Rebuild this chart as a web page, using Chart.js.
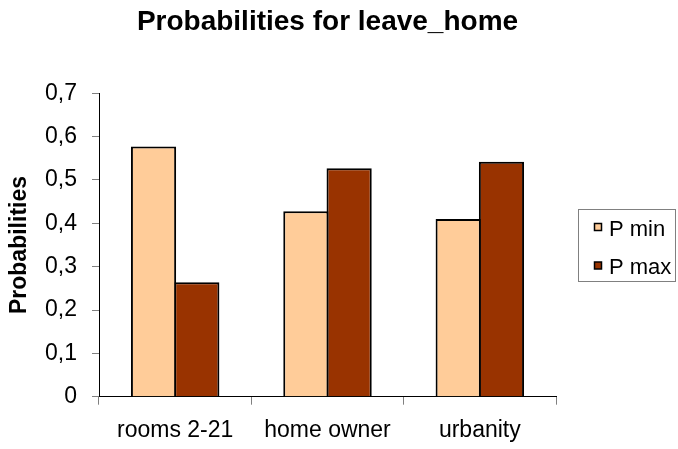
<!DOCTYPE html>
<html>
<head>
<meta charset="utf-8">
<script src="https://cdn.jsdelivr.net/npm/chart.js@4"></script>
<style>
  body { margin: 0; background: #fff; }
  canvas { display: block; }
</style>
</head>
<body>
<canvas id="chart" width="678" height="449"></canvas>
<script>
var categories = ['rooms 2-21', 'home owner', 'urbanity'];
var seriesNames = ['P min', 'P max'];
var pMin = [0.577, 0.428, 0.410];
var pMax = [0.264, 0.527, 0.542];
var seriesColors = ['#FFCC99', '#993300'];

Chart.defaults.font.family = "'Liberation Sans', Arial, sans-serif";
Chart.defaults.color = '#000';

// legend drawn by hand so the box matches the reference
var boxLegend = {
	id: 'boxLegend',
	afterDraw: function(chart) {
		var ctx = chart.ctx;
		ctx.save();
		ctx.strokeStyle = '#808080';
		ctx.lineWidth = 1;
		ctx.strokeRect(578.5, 209.5, 97, 72);
		ctx.font = "22px 'Liberation Sans', Arial, sans-serif";
		ctx.textBaseline = 'alphabetic';
		ctx.textAlign = 'left';
		chart.data.datasets.forEach(function(ds, i) {
			var cy = 227.5 + i * 38.5;
			ctx.fillStyle = ds.backgroundColor;
			ctx.fillRect(594.5, cy - 4, 7, 7);
			ctx.strokeStyle = '#000';
			ctx.lineWidth = 1.5;
			ctx.strokeRect(594.5, cy - 4, 7, 7);
			ctx.fillStyle = '#000';
			ctx.fillText(ds.label, 609, cy + 8.3);
		});
		ctx.restore();
	}
};

var config_bar = {
	type: 'bar',
	data: {
		labels: categories,
		datasets: [{
			label: seriesNames[0],
			data: pMin,
			backgroundColor: seriesColors[0],
			borderColor: '#000',
			borderWidth: 2,
			categoryPercentage: 0.568,
			barPercentage: 1.045
		}, {
			label: seriesNames[1],
			data: pMax,
			backgroundColor: seriesColors[1],
			borderColor: '#000',
			borderWidth: 2,
			categoryPercentage: 0.568,
			barPercentage: 1.045
		}]
	},
	options: {
		responsive: false,
		animation: false,
		layout: {
			padding: { left: 6, right: 122, top: 0, bottom: 0 }
		},
		plugins: {
			legend: { display: false },
			tooltip: { enabled: false },
			title: {
				display: true,
				text: 'Probabilities for leave_home',
				fullSize: false,
				color: '#000',
				font: { size: 28, weight: 'bold' },
				padding: { top: 5, bottom: 54.7 }
			}
		},
		scales: {
			x: {
				afterFit: function(scale) { scale.height = 52.3; },
				grid: { drawOnChartArea: false, tickLength: 8, tickColor: '#808080', offset: true },
				border: { color: '#000', width: 1 },
				ticks: { padding: 12, color: '#000', font: { size: 23 } }
			},
			y: {
				min: 0,
				max: 0.7,
				afterFit: function(scale) { scale.width = 93; },
				grid: { drawOnChartArea: false, tickLength: 7, tickColor: '#808080' },
				border: { color: '#000', width: 1 },
				ticks: {
					stepSize: 0.1,
					padding: 15,
					color: '#000',
					font: { size: 23 },
					callback: function(v) {
						return v === 0 ? '0' : v.toFixed(1).replace('.', ',');
					}
				},
				title: {
					display: true,
					text: 'Probabilities',
					color: '#000',
					font: { size: 23, weight: 'bold' },
					padding: 0
				}
			}
		}
	},
	plugins: [boxLegend]
};

window.onload = function() {
	var ctx = document.getElementById('chart').getContext('2d');
	window.myBar = new Chart(ctx, config_bar);
};
</script>
</body>
</html>
